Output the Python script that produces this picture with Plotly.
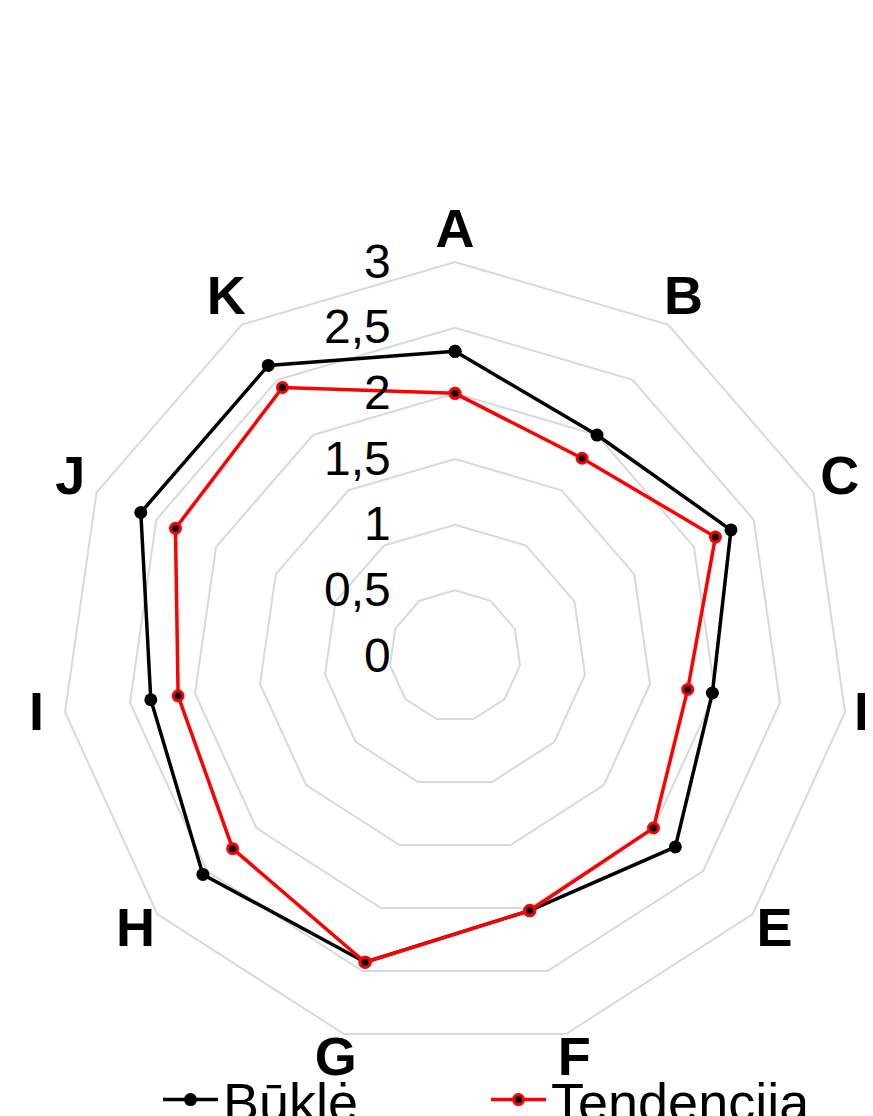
import plotly.graph_objects as go

categories = ["A", "B", "C", "D", "E", "F", "G", "H", "I", "J", "K"]
bukle = [2.32, 2.0, 2.31, 1.98, 2.22, 2.02, 2.43, 2.54, 2.34, 2.63, 2.63]
tendencija = [2.0, 1.79, 2.18, 1.79, 2.0, 2.02, 2.43, 2.24, 2.13, 2.34, 2.43]
tick_vals = [0, 0.5, 1, 1.5, 2, 2.5, 3]
tick_text = ["0", "0,5", "1", "1,5", "2", "2,5", "3"]

W, H = 873, 1116
OFF = 8                      # page body margin in the browser
cx, cy = 455 - OFF, 656 - OFF
R3 = 394                     # pixel radius of the value 3
LABEL_R = 3.22               # radial position of the category labels
R_MAX = 3.225                # radial range end (room for labels)
R = R3 * R_MAX / 3

fig = go.Figure()
fig.add_trace(go.Scatterpolar(
    r=bukle + bukle[:1], theta=categories + categories[:1], name="Būklė",
    mode="lines+markers",
    line=dict(color="#000000", width=3.5),
    marker=dict(color="#000000", size=13),
))
fig.add_trace(go.Scatterpolar(
    r=tendencija + tendencija[:1], theta=categories + categories[:1], name="Tendencija",
    mode="lines+markers",
    line=dict(color="#ff0000", width=3.5),
    marker=dict(color="#000000", size=10, line=dict(color="#ff0000", width=3)),
))
# category labels placed through the polar scales
fig.add_trace(go.Scatterpolar(
    r=[LABEL_R] * len(categories), theta=categories, mode="text",
    text=categories, textposition="middle center",
    textfont=dict(size=54, weight="bold", color="black",
                  family="Liberation Sans, Arial, sans-serif"),
    cliponaxis=False, showlegend=False, hoverinfo="skip",
))

fig.update_layout(
    width=W, height=H,
    margin=dict(l=0, r=0, t=0, b=0, autoexpand=False),
    paper_bgcolor="white",
    font=dict(family="Liberation Sans, Arial, sans-serif", color="black"),
    polar=dict(
        domain=dict(x=[(cx - R) / W, min(1, (cx + R) / W)],
                    y=[(H - cy - R) / H, (H - cy + R) / H]),
        bgcolor="white",
        gridshape="linear",
        angularaxis=dict(
            direction="clockwise", rotation=90,
            showgrid=False, showline=False,
            ticks="", showticklabels=False,
        ),
        radialaxis=dict(
            range=[0, R_MAX], tickvals=tick_vals, ticktext=tick_text,
            angle=90, tickangle=90, side="counterclockwise",
            showline=False, gridcolor="#d9d9d9", gridwidth=1.5,
            ticks="outside", ticklen=47, tickcolor="rgba(0,0,0,0)",
            tickfont=dict(size=48, color="black"),
        ),
    ),
    showlegend=True,
    legend=dict(
        orientation="h", x=150 / W, xanchor="left", y=(H - 1050) / H, yanchor="top",
        font=dict(size=54, color="black"),
        bgcolor="rgba(0,0,0,0)",
        itemwidth=55,
        entrywidth=258, entrywidthmode="pixels",
    ),
)

fig.write_html("out.html")
